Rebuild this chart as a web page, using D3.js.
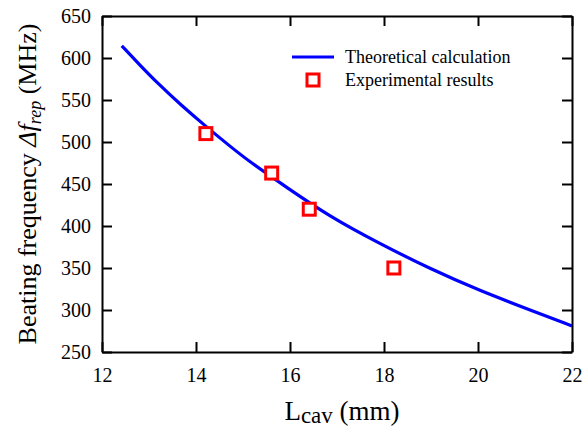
<!DOCTYPE html>
<html>
<head>
<meta charset="utf-8">
<script src="https://cdn.jsdelivr.net/npm/d3@7"></script>
<style>
  body { margin: 0; background: #fff; }
  .axis path, .axis line { stroke: #000; stroke-width: 2; }
</style>
</head>
<body>
<svg id="chart" width="583" height="429"></svg>
<script>
// Theoretical curve
const theoryL = [12.42, 12.8, 13.2, 13.7, 14.19, 14.7, 15.15, 15.93, 16.85, 17.91, 18.98, 20.04, 21.11, 22.0];
const theoryF = [614.5, 592, 569, 543, 519.5, 496, 476, 446, 411, 379, 349, 323, 300, 281];

// Experimental points
const expL = [14.21, 15.61, 16.41, 18.21];
const expF = [510, 463, 420, 350];

const xTicks = [12, 14, 16, 18, 20, 22];
const yTicks = [250, 300, 350, 400, 450, 500, 550, 600, 650];

const serif = 'Liberation Serif';

const margin = { top: 16, right: 11, bottom: 77, left: 102 };
const svg = d3.select('#chart');
const width = 583 - margin.left - margin.right;
const height = 429 - margin.top - margin.bottom;

const g = svg.append('g').attr('transform', `translate(${margin.left},${margin.top})`);

const x = d3.scaleLinear().domain([12, 22]).range([0, width]);
const y = d3.scaleLinear().domain([250, 650]).range([height, 0]);

// axes, ticks pointing inward
const xAxisG = g.append('g').attr('class', 'axis')
  .attr('transform', `translate(0,${height})`)
  .call(d3.axisBottom(x).tickValues(xTicks).tickSizeInner(-10).tickSizeOuter(0).tickPadding(16));

const yAxisG = g.append('g').attr('class', 'axis')
  .call(d3.axisLeft(y).tickValues(yTicks).tickSizeInner(-10).tickSizeOuter(0).tickPadding(11));

[xAxisG, yAxisG].forEach(a => {
  a.selectAll('text')
    .style('font-family', serif)
    .style('font-size', '20px')
    .attr('fill', '#000');
});

g.append('g').attr('class', 'axis')
  .call(d3.axisTop(x).tickValues(xTicks).tickSizeInner(-10).tickSizeOuter(0).tickFormat(''));

g.append('g').attr('class', 'axis')
  .attr('transform', `translate(${width},0)`)
  .call(d3.axisRight(y).tickValues(yTicks).tickSizeInner(-10).tickSizeOuter(0).tickFormat(''));

// theory line
const theory = theoryL.map((l, i) => ({ l: l, f: theoryF[i] }));
const line = d3.line()
  .x(d => x(d.l))
  .y(d => y(d.f))
  .curve(d3.curveBasis);

g.append('path')
  .datum(theory)
  .attr('fill', 'none')
  .attr('stroke', '#0000ff')
  .attr('stroke-width', 3.2)
  .attr('d', line);

// experimental squares
const sq = 12;
g.selectAll('.exp')
  .data(expL.map((l, i) => ({ l: l, f: expF[i] })))
  .enter()
  .append('rect')
  .attr('class', 'exp')
  .attr('x', d => x(d.l) - sq / 2)
  .attr('y', d => y(d.f) - sq / 2)
  .attr('width', sq)
  .attr('height', sq)
  .attr('fill', '#fff')
  .attr('stroke', '#ff0000')
  .attr('stroke-width', 3);

// legend
const legend = svg.append('g');
legend.append('line')
  .attr('x1', 292).attr('x2', 334).attr('y1', 57).attr('y2', 57)
  .attr('stroke', '#0000ff').attr('stroke-width', 3.2);
legend.append('text')
  .attr('x', 345).attr('y', 63)
  .style('font-family', serif).style('font-size', '18px')
  .text('Theoretical calculation');
legend.append('rect')
  .attr('x', 313 - sq / 2).attr('y', 80 - sq / 2)
  .attr('width', sq).attr('height', sq)
  .attr('fill', '#fff').attr('stroke', '#ff0000').attr('stroke-width', 3);
legend.append('text')
  .attr('x', 345).attr('y', 86)
  .style('font-family', serif).style('font-size', '18px')
  .text('Experimental results');

// x axis title
const xt = svg.append('text')
  .attr('x', 342).attr('y', 420)
  .attr('text-anchor', 'middle')
  .style('font-family', serif)
  .style('font-size', '27px');
xt.append('tspan').text('L');
xt.append('tspan').style('font-size', '23px').attr('dy', 3).text('cav');
xt.append('tspan').attr('dy', -3).text(' (mm)');

// y axis title
const yt = svg.append('text')
  .attr('transform', `translate(36,${margin.top + height / 2}) rotate(-90)`)
  .attr('text-anchor', 'middle')
  .style('font-family', serif)
  .style('font-size', '26px');
yt.append('tspan').text('Beating frequency ');
yt.append('tspan').attr('font-style', 'italic').text('Δf');
yt.append('tspan').attr('font-style', 'italic').style('font-size', '18px').attr('dy', 5).text('rep');
yt.append('tspan').attr('dy', -5).text(' (MHz)');
</script>
</body>
</html>
